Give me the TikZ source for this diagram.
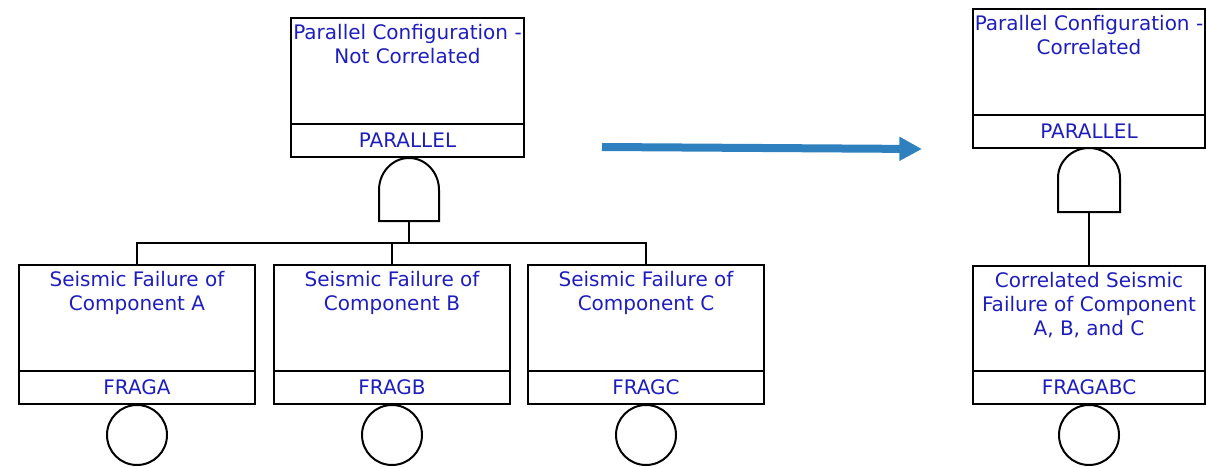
\documentclass[tikz,border=0pt]{standalone}
\usepackage{fontspec}
\setmainfont{DejaVu Sans}
\usetikzlibrary{arrows.meta}
\definecolor{txtblue}{RGB}{30,30,190}
\definecolor{arrblue}{RGB}{46,128,190}
\begin{document}
\begin{tikzpicture}[x=0.75pt,y=-0.75pt,
  line width=1.5pt,
  box/.style={draw=black,line width=1.5pt,rectangle,inner sep=0pt},
  descbox/.style={box,minimum width=#1,minimum height=79.5pt},
  namebox/.style={box,minimum width=#1,minimum height=24.75pt,
     text=txtblue,font=\fontsize{15pt}{18pt}\selectfont},
  txt/.style={inner sep=0pt,align=center,text=txtblue,anchor=north,
     font=\fontsize{15pt}{18.2pt}\selectfont},
  gate/.style={draw=black,line width=1.5pt},
  basic/.style={draw=black,line width=1.5pt,circle,minimum size=45pt,inner sep=0pt},
  bigarrow/.style={draw=arrblue,line width=6pt,-{Triangle[length=17pt,width=17pt]}}
]
\useasboundingbox (0,0) rectangle (1206,467);

% ---- left tree: top event
\node[descbox=174.75pt] (dT) at (407.5,71) {};
\node[namebox=174.75pt] (nT) at (407.5,140.5) {PARALLEL};
\node[txt] (tT) at ([yshift=-4.5pt]dT.north) {Parallel Configuration -\\Not Correlated};

% gate
\coordinate (gT) at (409,221);
\draw[gate] (gT) ++(-30,0) -- ++(0,-31)
  arc[start angle=180,end angle=0,x radius=22.5pt,y radius=24pt] -- ++(0,31) -- cycle;

% children
\node[descbox=177pt] (dA) at (137,318) {};
\node[namebox=177pt] (nA) at (137,387.5) {FRAGA};
\node[txt] (tA) at ([yshift=-4.5pt]dA.north) {Seismic Failure of\\Component A};
\node[basic] (cA) at (137,435) {};

\node[descbox=177pt] (dB) at (392,318) {};
\node[namebox=177pt] (nB) at (392,387.5) {FRAGB};
\node[txt] (tB) at ([yshift=-4.5pt]dB.north) {Seismic Failure of\\Component B};
\node[basic] (cB) at (392,435) {};

\node[descbox=177pt] (dC) at (646,318) {};
\node[namebox=177pt] (nC) at (646,387.5) {FRAGC};
\node[txt] (tC) at ([yshift=-4.5pt]dC.north) {Seismic Failure of\\Component C};
\node[basic] (cC) at (646,435) {};

\coordinate (bus) at (409,243);
\draw (gT) -- (bus);
\draw (bus) -| (dA.north);
\draw (bus) -| (dB.north);
\draw (bus) -| (dC.north);

% ---- arrow
\coordinate (as) at (602,147);
\coordinate (ae) at (922,149);
\draw[bigarrow] (as) -- (ae);

% ---- right tree
\node[descbox=174pt] (dR) at (1089,62) {};
\node[namebox=174pt] (nR) at (1089,131.5) {PARALLEL};
\node[txt] (tR) at ([yshift=-4.5pt]dR.north) {Parallel Configuration -\\Correlated};

\coordinate (gR) at (1089,212);
\draw[gate] (gR) ++(-31,0) -- ++(0,-34)
  arc[start angle=180,end angle=0,x radius=23.25pt,y radius=22.5pt] -- ++(0,34) -- cycle;

\node[box,minimum width=174pt,minimum height=78.75pt] (dS) at (1089,318.5) {};
\node[namebox=174pt] (nS) at (1089,387.5) {FRAGABC};
\node[txt] (tS) at ([yshift=-4.5pt]dS.north) {Correlated Seismic\\Failure of Component\\A, B, and C};
\node[basic] (cS) at (1089,435) {};

\draw (gR) -- (dS.north);
\end{tikzpicture}
\end{document}
